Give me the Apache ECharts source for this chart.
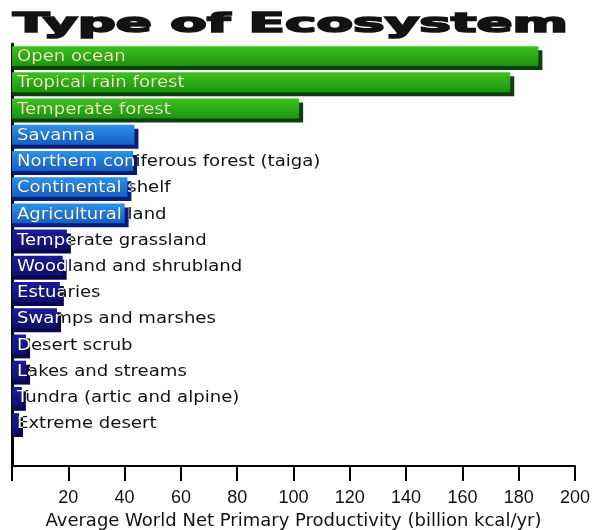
<!DOCTYPE html>
<html>
<head>
<meta charset="utf-8">
<script src="https://cdn.jsdelivr.net/npm/echarts@6/dist/echarts.min.js"></script>
<style>
html,body{margin:0;padding:0;background:#fff;}
#chart{width:593px;height:530px;}
</style>
</head>
<body>
<div id="chart"></div>
<script>
const categories = [
  'Open ocean',
  'Tropical rain forest',
  'Temperate forest',
  'Savanna',
  'Northern coniferous forest (taiga)',
  'Continental shelf',
  'Agricultural land',
  'Temperate grassland',
  'Woodland and shrubland',
  'Estuaries',
  'Swamps and marshes',
  'Desert scrub',
  'Lakes and streams',
  'Tundra (artic and alpine)',
  'Extreme desert'
];
const values = [187, 177, 102, 43.5, 43, 41, 40, 19.5, 18, 17, 16, 5, 5, 3.5, 2.5];
const barGroup = ['green','green','green','blue','blue','blue','blue',
  'navy','navy','navy','navy','navy','navy','navy','navy'];
const xTicks = [0, 20, 40, 60, 80, 100, 120, 140, 160, 180, 200];
const titleText = 'Type of Ecosystem';
const xAxisName = 'Average World Net Primary Productivity (billion kcal/yr)';

const palette = {
  green: {top: '#3cc21f', bottom: '#1c9410', shadow: '#0b3f0b', text: '#eef6b8'},
  blue:  {top: '#2a92ea', bottom: '#145fc0', shadow: '#0c1a78', text: '#ffffff'},
  navy:  {top: '#1c1c96', bottom: '#0f0f6e', shadow: '#08084a', text: '#ffffff'}
};

const labelFont = '16px "DejaVu Sans"';
const labelScale = 1.13;
const titleFont = 'bold 26px "DejaVu Sans"';
const mctx = document.createElement('canvas').getContext('2d');
mctx.font = titleFont;
const titleScale = 555 / mctx.measureText(titleText).width;

const chart = echarts.init(document.getElementById('chart'), null, {renderer: 'canvas'});

function renderItem(params, api) {
  const i = api.value(1);
  const v = api.value(0);
  const name = categories[i];
  const p0 = api.coord([0, i]);
  const p1 = api.coord([v, i]);
  const band = Math.abs(api.size([0, 1])[1]);
  const h = band * 0.76;
  const x0 = p0[0];
  const y0 = p0[1] - h / 2 - 1;
  const w = p1[0] - p0[0];
  const c = palette[barGroup[i]];
  const mkText = fill => ({
    type: 'text', x: x0 + 5, y: p0[1], scaleX: labelScale,
    style: {text: name, x: 0, y: 0, verticalAlign: 'middle', font: labelFont, fill: fill}
  });
  return {
    type: 'group',
    children: [
      {type: 'rect', shape: {x: x0, y: y0 + 4, width: w + 4, height: h}, style: {fill: c.shadow}},
      {type: 'rect', shape: {x: x0, y: y0, width: w, height: h},
        style: {fill: new echarts.graphic.LinearGradient(0, 0, 0, 1, [
          {offset: 0, color: c.top}, {offset: 1, color: c.bottom}])}},
      mkText('#111'),
      {type: 'group',
        clipPath: {type: 'rect', shape: {x: x0, y: y0, width: w + 4, height: h + 4}},
        children: [mkText(c.text)]}
    ]
  };
}

const option = {
  animation: false,
  backgroundColor: '#fff',
  graphic: [{
    type: 'text', x: 13, y: 25, scaleX: titleScale,
    style: {text: titleText, x: 0, y: 0, font: titleFont, fill: '#121212',
      stroke: '#121212', lineWidth: 1.6, verticalAlign: 'middle'}
  }],
  grid: {left: 12, right: 18, top: 44, bottom: 64, containLabel: false, outerBoundsMode: 'none'},
  xAxis: {
    type: 'value', min: xTicks[0], max: xTicks[xTicks.length - 1], interval: 20,
    name: xAxisName, nameLocation: 'middle', nameGap: 45,
    nameTextStyle: {fontFamily: 'DejaVu Sans', fontSize: 18, color: '#111'},
    axisLine: {show: true, onZero: false, lineStyle: {color: '#000', width: 2}},
    axisTick: {show: true, length: 15, lineStyle: {color: '#000', width: 2}},
    axisLabel: {margin: 23, fontFamily: 'Liberation Sans', fontSize: 18, color: '#111',
      formatter: v => (v === 0 ? '' : String(v))},
    splitLine: {show: false}
  },
  yAxis: {
    type: 'value', min: -0.5, max: 15.6, inverse: true,
    axisLine: {show: true, onZero: false, lineStyle: {color: '#000', width: 3}},
    axisTick: {show: false}, axisLabel: {show: false}, splitLine: {show: false}
  },
  series: [{
    type: 'custom',
    renderItem: renderItem,
    encode: {x: 0, y: 1},
    data: values.map((v, i) => [v, i]),
    clip: false
  }]
};
chart.setOption(option);
</script>
</body>
</html>
